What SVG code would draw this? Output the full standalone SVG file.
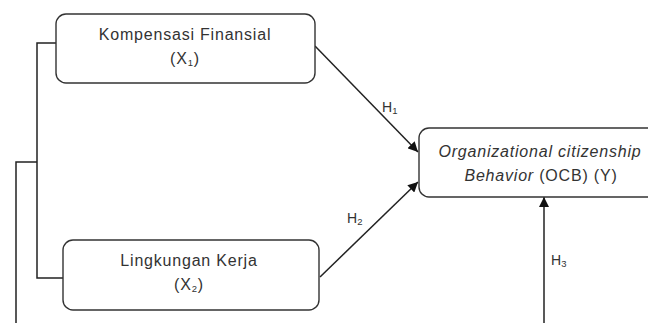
<svg xmlns="http://www.w3.org/2000/svg" width="648" height="323" viewBox="0 0 648 323">
<defs>
<style>
.box{fill:#fff;stroke:#333;stroke-width:1.4}
.ln{fill:none;stroke:#222;stroke-width:1.5}
.t{font-family:"Liberation Sans",Arial,sans-serif;font-size:16px;fill:#333;letter-spacing:0.8px;text-anchor:middle}
.h{font-family:"Liberation Sans",Arial,sans-serif;font-size:14px;fill:#333}
.sub{font-size:9.5px}
</style>
<marker id="ah" viewBox="0 0 10 10" refX="10" refY="5" markerWidth="10" markerHeight="10" markerUnits="userSpaceOnUse" orient="auto">
<path d="M0,0 L10,5 L0,10 Z" fill="#111"/>
</marker>
</defs>
<g id="connectors">
<polyline class="ln" points="56,43 37,43 37,278 63,278"/>
<polyline class="ln" points="37,162 16,162 16,323"/>
<line class="ln" x1="315" y1="46" x2="418" y2="152" marker-end="url(#ah)"/>
<line class="ln" x1="320" y1="277" x2="418" y2="182" marker-end="url(#ah)"/>
<line class="ln" x1="544" y1="323" x2="544" y2="197" marker-end="url(#ah)"/>
<text class="h" x="382" y="112">H<tspan class="sub" dy="2">1</tspan></text>
<text class="h" x="347" y="223">H<tspan class="sub" dy="2">2</tspan></text>
<text class="h" x="551" y="265">H<tspan class="sub" dy="2">3</tspan></text>
</g>
<g id="x1">
<rect class="box" x="56" y="14" width="259" height="69" rx="10"/>
<text class="t" x="185" y="40">Kompensasi Finansial</text>
<text class="t" x="185" y="64">(X<tspan class="sub" dy="2">1</tspan><tspan dy="-2">)</tspan></text>
</g>
<g id="x2">
<rect class="box" x="63" y="240" width="256" height="70" rx="10"/>
<text class="t" x="189" y="266">Lingkungan Kerja</text>
<text class="t" x="189" y="290">(X<tspan class="sub" dy="2">2</tspan><tspan dy="-2">)</tspan></text>
</g>
<g id="y">
<rect class="box" x="419" y="128" width="250" height="69" rx="10"/>
<text class="t" x="540" y="157" font-style="italic">Organizational citizenship</text>
<text class="t" x="541" y="181"><tspan font-style="italic">Behavior</tspan> (OCB) (Y)</text>
</g>
</svg>
